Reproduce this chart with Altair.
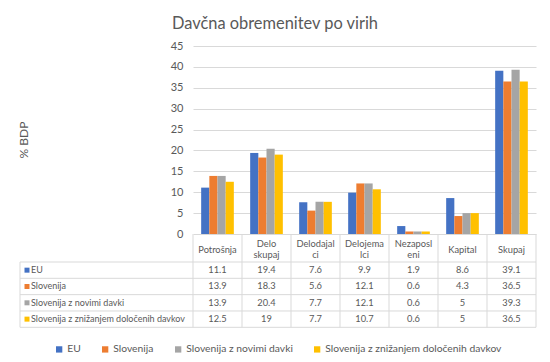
import altair as alt
import pandas as pd

categories = ["Potrošnja", "Delo skupaj", "Delodajalci", "Delojemalci", "Nezaposleni", "Kapital", "Skupaj"]
header_top = ["", "Delo", "Delodajal", "Delojema", "Nezaposl", "", ""]
header_bottom = ["", "skupaj", "ci", "lci", "eni", "", ""]
header_single = ["Potrošnja", "", "", "", "", "Kapital", "Skupaj"]
series = ["EU", "Slovenija", "Slovenija z novimi davki", "Slovenija z znižanjem določenih davkov"]
colors = ["#4472C4", "#ED7D31", "#A5A5A5", "#FFC000"]
eu = [11.1, 19.4, 7.6, 9.9, 1.9, 8.6, 39.1]
slovenija = [13.9, 18.3, 5.6, 12.1, 0.6, 4.3, 36.5]
slovenija_novi = [13.9, 20.4, 7.7, 12.1, 0.6, 5, 39.3]
slovenija_znizanje = [12.5, 19, 7.7, 10.7, 0.6, 5, 36.5]
y_ticks = [0, 5, 10, 15, 20, 25, 30, 35, 40, 45]

FONT = "Lato"
GRAY = "#595959"
LINE = "#d9d9d9"
TFS = 9.3

rows = []
for s, vals in zip(series, [eu, slovenija, slovenija_novi, slovenija_znizanje]):
    for c, v in zip(categories, vals):
        lab = str(int(v)) if float(v).is_integer() else str(v)
        rows.append({"category": c, "series": s, "value": v, "label": lab})
df = pd.DataFrame(rows)

hdr_rows = []
for c, t, b, s in zip(categories, header_top, header_bottom, header_single):
    for slot, txt in (("top", t), ("single", s), ("bottom", b)):
        if txt:
            hdr_rows.append({"category": c, "slot": slot, "text": txt})
hdr_df = pd.DataFrame(hdr_rows)
ser_df = pd.DataFrame({"series": series})
cat_df = pd.DataFrame({"category": categories})

x_scale = alt.Scale(domain=categories, paddingInner=0, paddingOuter=0)
xoff_scale = alt.Scale(domain=series, paddingInner=0, paddingOuter=1.0)
color_scale = alt.Scale(domain=series, range=colors)
row_scale = alt.Scale(type="band", domain=series, range=[216, 281.3], paddingInner=0, paddingOuter=0)
slot_scale = alt.Scale(type="point", domain=["top", "single", "bottom"], range=[198, 209], padding=0)

X = alt.X("category:N", scale=x_scale, sort=categories, axis=None)

bars = alt.Chart(df).mark_bar().encode(
    x=X,
    xOffset=alt.XOffset("series:N", scale=xoff_scale, sort=series),
    y=alt.Y("value:Q", scale=alt.Scale(domain=[0, 45], nice=False),
            axis=alt.Axis(values=y_ticks, title="% BDP", labelFont=FONT, labelFontSize=11,
                          labelColor=GRAY, labelPadding=10, ticks=False, domain=False,
                          gridColor=LINE, titleFont=FONT, titleFontSize=12,
                          titleFontWeight="normal", titleColor=GRAY, titleX=-170, titleY=93.5,
                          titleAngle=-90, titleAlign="center", titleBaseline="middle")),
    color=alt.Color("series:N", scale=color_scale, sort=series,
                    legend=alt.Legend(orient="none", legendX=-139, legendY=298,
                                      direction="horizontal", title=None, symbolType="square",
                                      symbolSize=40, symbolStrokeWidth=0, labelFont=FONT,
                                      labelFontSize=10.3, labelColor=GRAY, columnPadding=19,
                                      labelOffset=3, padding=0, labelLimit=0)),
)

values_text = alt.Chart(df).mark_text(font=FONT, fontSize=TFS, color=GRAY).encode(
    x=X,
    y=alt.Y("series:N", scale=row_scale, axis=None),
    text="label:N",
)

header_text = alt.Chart(hdr_df).mark_text(font=FONT, fontSize=TFS, color=GRAY, baseline="middle").encode(
    x=X, y=alt.Y("slot:N", scale=slot_scale, axis=None), text="text:N")

row_labels = alt.Chart(ser_df).mark_text(font=FONT, fontSize=9, color=GRAY, align="left").encode(
    x=alt.value(-162), y=alt.Y("series:N", scale=row_scale, axis=None), text="series:N")

row_squares = alt.Chart(ser_df).mark_square(size=25, opacity=1).encode(
    x=alt.value(-166), y=alt.Y("series:N", scale=row_scale, axis=None),
    color=alt.Color("series:N", scale=color_scale, legend=None))

h_lines = alt.Chart(ser_df).mark_rule(color=LINE, strokeWidth=1).encode(
    y=alt.Y("series:N", scale=row_scale, axis=None, bandPosition=0),
    x=alt.value(-173), x2=alt.value(343))
h_last = alt.Chart(ser_df.tail(1)).mark_rule(color=LINE, strokeWidth=1).encode(
    y=alt.Y("series:N", scale=row_scale, axis=None, bandPosition=1),
    x=alt.value(-173), x2=alt.value(343))

v_lines = alt.Chart(cat_df).mark_rule(color=LINE, strokeWidth=1).encode(
    x=alt.X("category:N", scale=x_scale, sort=categories, axis=None, bandPosition=0),
    y=alt.value(188), y2=alt.value(281.3))
v_last = alt.Chart(cat_df.tail(1)).mark_rule(color=LINE, strokeWidth=1).encode(
    x=alt.X("category:N", scale=x_scale, sort=categories, axis=None, bandPosition=1),
    y=alt.value(188), y2=alt.value(281.3))
v_left = alt.Chart(ser_df.head(1)).mark_rule(color=LINE, strokeWidth=1).encode(
    x=alt.value(-173), y=alt.value(216), y2=alt.value(281.3))

chart = alt.layer(
    bars, h_lines, h_last, v_lines, v_last, v_left, values_text, header_text, row_labels, row_squares
).resolve_scale(y="independent").properties(
    width=343, height=188,
    autosize=alt.AutoSizeParams(type="none"),
    padding={"left": 185, "top": 38, "right": 6, "bottom": 120},
    background="white",
    title=alt.Title("Davčna obremenitev  po virih", font=FONT, fontSize=16.4, color=GRAY,
                    fontWeight="normal", anchor="middle", dx=-89.5, offset=8),
).configure_view(stroke=None)

chart.save("out.html", embed_options={"renderer": "svg", "actions": False})
